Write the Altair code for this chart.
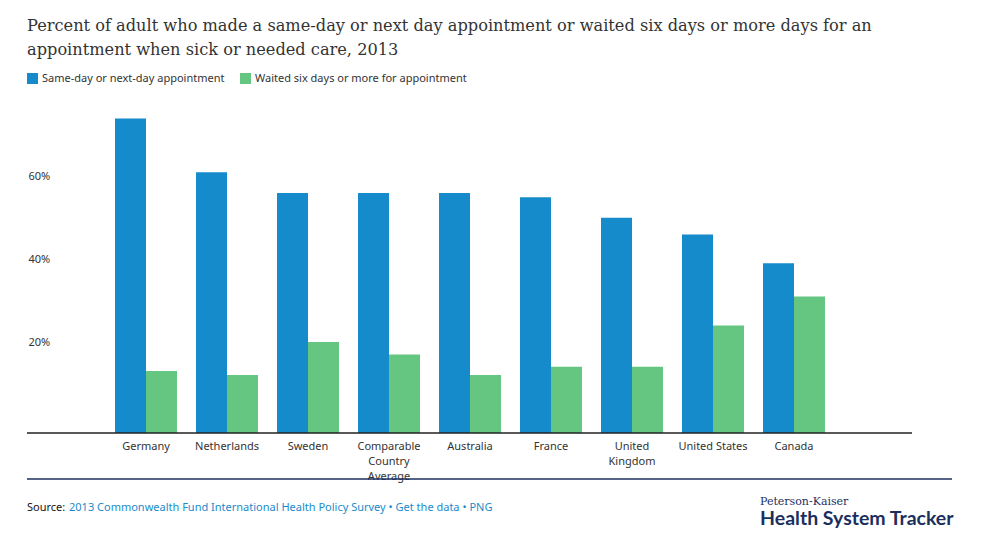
import altair as alt
import pandas as pd

countries = ["Germany", "Netherlands", "Sweden", "Comparable Country Average",
             "Australia", "France", "United Kingdom", "United States", "Canada"]
same_day = [76, 63, 58, 58, 58, 57, 52, 48, 41]
waited = [15, 14, 22, 19, 14, 16, 16, 26, 33]
series = ["Same-day or next-day appointment", "Waited six days or more for appointment"]
colors = ["#168bcb", "#64c680"]
y_ticks = [20, 40, 60]

title_lines = ["Percent of adult who made a same-day or next day appointment or waited six days or more days for an",
               "appointment when sick or needed care, 2013"]
source_label = "Source:"
source_links = "2013 Commonwealth Fund International Health Policy Survey \u2022  Get the data \u2022   PNG"
logo_small = "Peterson-Kaiser"
logo_big = "Health System Tracker"

rows = []
for c, a, b in zip(countries, same_day, waited):
    rows.append({"country": c, "series": series[0], "value": a})
    rows.append({"country": c, "series": series[1], "value": b})
df = pd.DataFrame(rows)

W, H = 885, 331
one = pd.DataFrame({"k": [0]})

label_expr = ("datum.label == 'Comparable Country Average' ? ['Comparable','Country','Average'] : "
              "datum.label == 'United Kingdom' ? ['United','Kingdom'] : datum.label")

bars = alt.Chart(df).mark_bar().encode(
    x=alt.X("country:N", sort=countries, title=None,
            scale=alt.Scale(range=[88, 798], paddingInner=0.2346, paddingOuter=0),
            axis=alt.Axis(labelAngle=0, ticks=False, tickSize=0, domain=False,
                          labelFont="Noto Sans", labelFontSize=11, labelColor="#333",
                          labelPadding=7, labelExpr=label_expr, labelLineHeight=15)),
    xOffset=alt.XOffset("series:N", sort=series, scale=alt.Scale(paddingInner=0, paddingOuter=0)),
    y=alt.Y("value:Q", title=None, scale=alt.Scale(domain=[0, 80], nice=False),
            axis=alt.Axis(values=y_ticks, grid=False, domain=False, ticks=False, tickSize=0,
                          labelAlign="left", labelPadding=-1, labelOffset=-8,
                          labelExpr="datum.value + '%'",
                          labelFont="Noto Sans", labelFontSize=11, labelColor="#333")),
    color=alt.Color("series:N", sort=series,
                    scale=alt.Scale(domain=series, range=colors),
                    legend=alt.Legend(title=None, orient="none", legendX=0, legendY=-29,
                                      direction="horizontal", symbolType="square", symbolSize=121,
                                      symbolStrokeWidth=0, labelFont="Noto Sans", labelFontSize=11,
                                      labelColor="#333", labelOffset=4, columnPadding=15,
                                      labelLimit=0)),
)

def txt(text, x, y, size, color, font, weight="normal"):
    return alt.Chart(one).mark_text(align="left", baseline="alphabetic", fontSize=size,
                                    color=color, font=font, fontWeight=weight).encode(
        x=alt.value(x), y=alt.value(y), text=alt.value(text))

title1 = txt(title_lines[0], 0, -71, 16.2, "#333", "DejaVu Serif")
title2 = txt(title_lines[1], 0, -47, 16.2, "#333", "DejaVu Serif")
src1 = txt(source_label, 0, 409, 11, "#111", "Noto Sans")
src2 = txt(source_links, 42, 409, 11, "#1a8bcb", "Noto Sans")
logo1 = txt(logo_small, 733, 403, 11, "#1b2f5e", "DejaVu Serif")
logo2 = txt(logo_big, 733, 423, 19.5, "#1b2f5e", "Lato", "bold")

baseline = alt.Chart(one).mark_rule(color="#222", strokeWidth=1.5).encode(
    x=alt.value(0), x2=alt.value(W), y=alt.value(H))
rule = alt.Chart(one).mark_rule(color="#1b2f5e", strokeWidth=1.5).encode(
    x=alt.value(0), x2=alt.value(925), y=alt.value(377))

chart = alt.layer(bars, baseline, title1, title2, rule, src1, src2, logo1, logo2).properties(
    width=W, height=H,
    autosize=alt.AutoSizeParams(type="none"),
    padding={"left": 19, "top": 94, "right": 60, "bottom": 100},
).configure(background="white").configure_view(stroke="transparent", strokeWidth=0)

chart.save("out.html", embed_options={"renderer": "svg", "actions": False})
